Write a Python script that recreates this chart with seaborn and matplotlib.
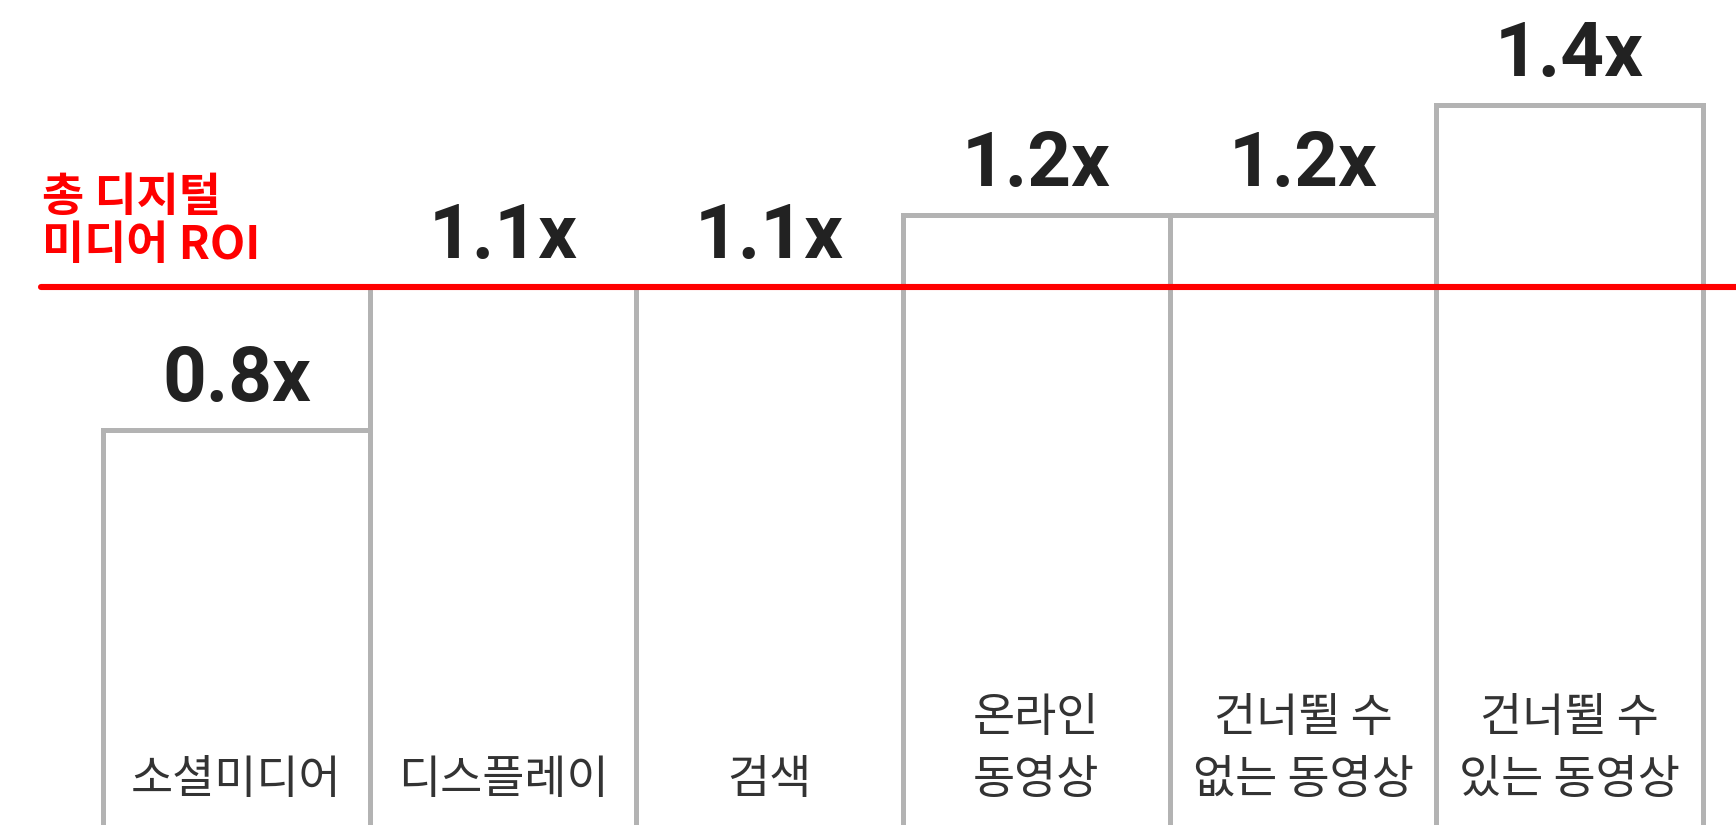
import matplotlib
matplotlib.use("Agg")
import matplotlib.pyplot as plt
import matplotlib.transforms as mtransforms
import seaborn as sns
import pandas as pd

# channels (bottom labels, "\n" = line break)
channels = ["소셜미디어", "디스플레이", "검색", "온라인\n동영상",
            "건너뛸 수\n없는 동영상", "건너뛸 수\n있는 동영상"]
# ROI labels printed above the bars
roi_labels = ["0.8x", "1.1x", "1.1x", "1.2x", "1.2x", "1.4x"]
# drawn bar heights, relative to the total digital media ROI line (= 1.0)
bar_heights = [0.736, 1.0, 1.0, 1.133, 1.133, 1.335]
total_roi_level = 1.0
total_roi_text = "총 디지털\n미디어 ROI"

df = pd.DataFrame({"channel": channels, "height": bar_heights})

sns.set_theme(style="white")
plt.rcParams["font.family"] = ["Noto Sans CJK KR", "DejaVu Sans"]

W, H, DPI = 1736, 825, 100
fig = plt.figure(figsize=(W / DPI, H / DPI), dpi=DPI)
ax = fig.add_axes([0, 0, 1, 1])

sns.barplot(data=df, x="channel", y="height", color="white", saturation=1,
            edgecolor="#b3b3b3", linewidth=3.6, width=1.0, ax=ax, zorder=2)

# pixel-based limits so the layout matches the reference
bar_px = (1703 - 103) / 6
ax.set_xlim(-0.5 - 103 / bar_px, 5.5 + (W - 1703) / bar_px)
span = H / 543
y0 = 5 * span / H
ax.set_ylim(y0, y0 + span)
ax.axis("off")

# total ROI line
ax.axhline(total_roi_level, xmin=41 / W, xmax=1, color="#ff0000", lw=4.4, zorder=4)
ax.text(42 / W, 1 - 269 / H, total_roi_text, transform=ax.transAxes,
        color="#ff0000", fontsize=33, fontweight="bold", ha="left", va="bottom",
        linespacing=1.05, zorder=5)

# value labels
for i, (h, lab) in enumerate(zip(bar_heights, roi_labels)):
    ax.annotate(lab, (i, h), xytext=(0, 21), textcoords="offset points",
                ha="center", va="baseline", fontsize=55, fontweight="bold",
                family=["Roboto", "DejaVu Sans"], color="#222222", zorder=5)

# channel labels inside bars, bottom aligned
blend = mtransforms.blended_transform_factory(ax.transData, ax.transAxes)
line_y = [1 - 780 / H, 1 - 718 / H]
for i, name in enumerate(channels):
    lines = name.split("\n")[::-1]
    for k, ln in enumerate(lines):
        ax.text(i, line_y[k], ln, transform=blend, ha="center", va="center",
                fontsize=33, color="#333333", zorder=5)

fig.savefig("out.png", dpi=DPI, facecolor="white")
